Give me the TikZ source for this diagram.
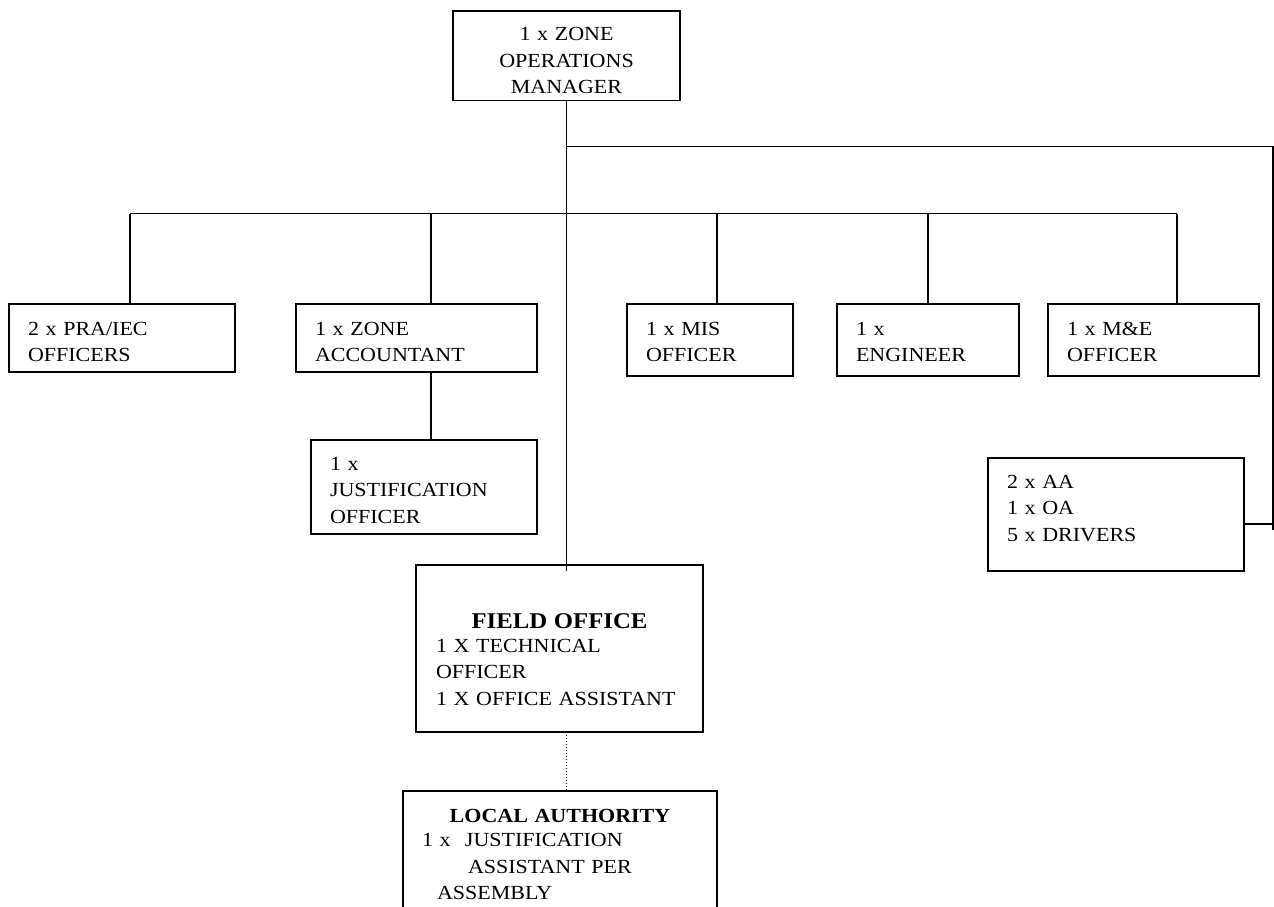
\documentclass[tikz,border=0pt]{standalone}
\usepackage{fontspec}
\setmainfont{Liberation Serif}[FakeStretch=1.1]
\usetikzlibrary{positioning}

\begin{document}
\begin{tikzpicture}[x=1pt,y=-1pt,font=\fontsize{20}{26.5}\selectfont]
		\tikzstyle{post}=[draw, line width=1.8pt, anchor=north west, outer sep=0pt, inner xsep=19pt, inner ysep=0pt, align=left]
		\tikzstyle{link}=[line width=1.8pt]

		\useasboundingbox (0,0) rectangle (1274,907);
		\clip (0,0) rectangle (1274,907);

		% manager and the rows below it
		\node [post, align=center, text width=189pt, text height=29.7pt, text depth=59.8pt] (zom) at (453,11) {1 x ZONE\\OPERATIONS\\MANAGER};
		\node [post, text width=188pt, text height=31pt, text depth=37pt] (pra) at (9,304) {2 x PRA/IEC\\OFFICERS};
		\node [post, text width=203pt, text height=31pt, text depth=37pt] (za) at (296,304) {1 x ZONE\\ACCOUNTANT};
		\node [post, text width=188pt, text height=30pt, text depth=64pt] (just) at (311,440) {1 x\\JUSTIFICATION\\OFFICER};
		\node [post, text width=128pt, text height=31pt, text depth=41pt] (mis) at (627,304) {1 x MIS\\OFFICER};
		\node [post, text width=144pt, text height=31pt, text depth=41pt] (eng) at (837,304) {1 x\\ENGINEER};
		\node [post, text width=173pt, text height=31pt, text depth=41pt] (me) at (1048,304) {1 x M\&E\\OFFICER};
		\node [post, text width=218pt, text height=30.3pt, text depth=82.7pt] (drv) at (988,458) {2 x AA\\1 x OA\\5 x DRIVERS};
		\node [post, inner xsep=20pt, text width=247pt, text height=63pt, text depth=104pt] (field) at (416,565)
			{{\centering\fontsize{22.5}{24}\selectfont\bfseries FIELD OFFICE\par}\vspace{-2.5pt}1 X TECHNICAL\\OFFICER\\1 X OFFICE ASSISTANT};
		\node [post, text width=276pt, text height=31pt, text depth=138pt] (la) at (403,791)
			{{\centering\bfseries LOCAL AUTHORITY\par}\vspace{-1.8pt}\makebox[43pt][l]{1 x}JUSTIFICATION\\\hspace*{46pt}ASSISTANT PER\\\hspace*{15pt}ASSEMBLY};

		% connectors
		\coordinate (fieldtop) at (zom.south |- field.north);
		\draw [link] (zom.south) -- ([yshift=-6pt]fieldtop);
		\foreach \x/\n in {130/pra, 431/za, 717/mis, 928/eng, 1177/me} {
			\coordinate (drop-\n) at (\x,213.5);
			\draw [link] (drop-\n) -- (drop-\n |- \n.north);
		}
		\draw [link] (drop-pra) -- (drop-me);
		\draw [link] (za.south -| drop-za) -- (drop-za |- just.north);
		\coordinate (elbow) at (1273,146.5);
		\coordinate (rtail) at (1273,530);
		\draw [link] (zom.south |- elbow) -- (elbow) -- (rtail);
		\coordinate (drvlink) at ([yshift=-9.5pt]drv.east);
		\draw [link] (drvlink) -- (drvlink -| elbow);
		\draw [line width=1pt, dotted] (zom.south |- field.south) -- (zom.south |- la.north);
	\end{tikzpicture}
\end{document}
